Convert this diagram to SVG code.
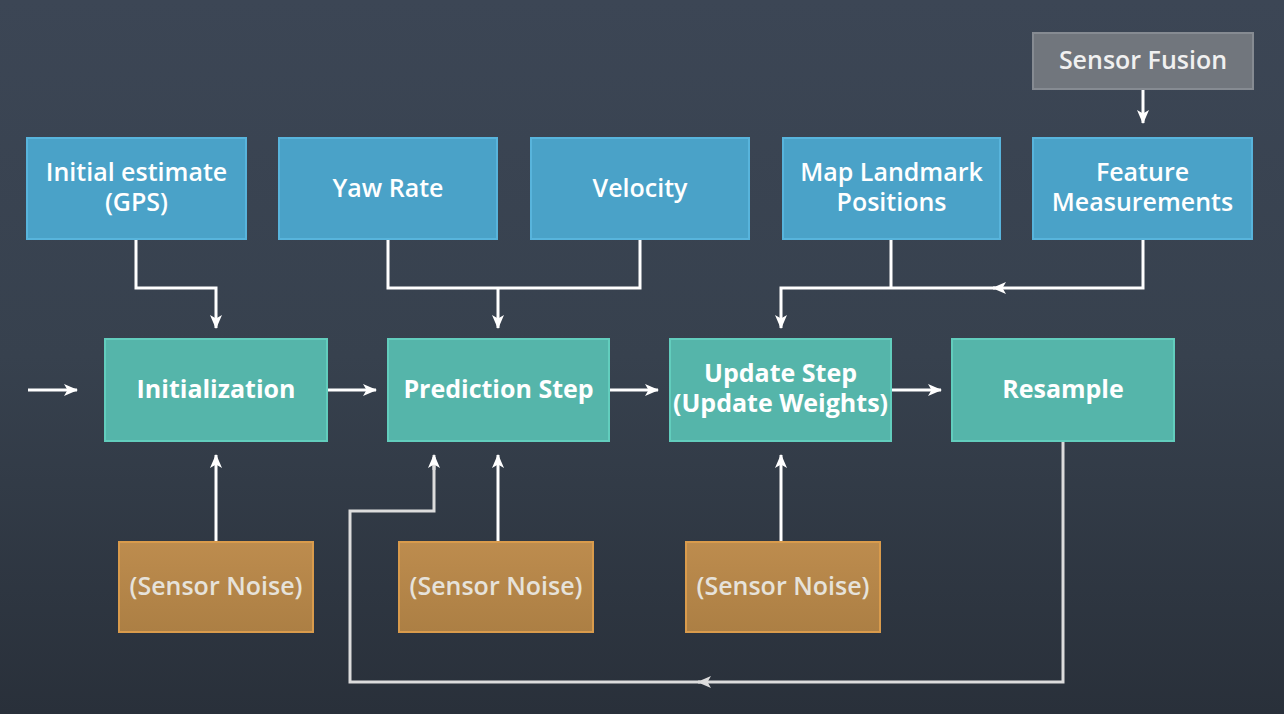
<svg xmlns="http://www.w3.org/2000/svg" width="1284" height="714" viewBox="0 0 1284 714">
<defs>
<linearGradient id="bg" x1="0" y1="0" x2="0" y2="1">
<stop offset="0" stop-color="#3c4655"/>
<stop offset="0.5" stop-color="#37414e"/>
<stop offset="1" stop-color="#29303a"/>
</linearGradient>
<linearGradient id="og" x1="0" y1="0" x2="0" y2="1">
<stop offset="0" stop-color="#bd8c4e"/>
<stop offset="1" stop-color="#ac7f44"/>
</linearGradient>
<marker id="ah" viewBox="0 0 14 12" refX="13" refY="6" markerWidth="14" markerHeight="12" markerUnits="userSpaceOnUse" orient="auto">
<path d="M0,0 L14,6 L0,12 L3.5,6 z" fill="#ffffff"/>
</marker>
<marker id="ahg" viewBox="0 0 14 12" refX="13" refY="6" markerWidth="14" markerHeight="12" markerUnits="userSpaceOnUse" orient="auto">
<path d="M0,0 L14,6 L0,12 L3.5,6 z" fill="#dcdcdc"/>
</marker>
</defs>
<style>
.blue{fill:#4aa2c8;stroke:#58b4dc;stroke-width:2}
.teal{fill:#55b5aa;stroke:#62cdbd;stroke-width:2}
.orange{fill:url(#og);stroke:#d99b4c;stroke-width:2}
.grey{fill:#71767d;stroke:#868b92;stroke-width:2}
text{font-family:"Open Sans","Noto Sans","DejaVu Sans",sans-serif;font-weight:600;font-size:25px;text-anchor:middle;fill:#ffffff}
.bold{font-weight:700}
.noise{fill:#e6e2da}
.sf{fill:#f0f0f0}
.c{fill:none;stroke:#ffffff;stroke-width:3;marker-end:url(#ah)}
.cn{fill:none;stroke:#ffffff;stroke-width:3}
.fb{fill:none;stroke:#dcdcdc;stroke-width:3}
</style>
<rect x="0" y="0" width="1284" height="714" fill="url(#bg)"/>

<g id="connectors">
<path class="c" d="M136,239 V288 H216 V328"/>
<path class="cn" d="M388,239 V288 H640 V239"/>
<path class="c" d="M498,288 V328"/>
<path class="cn" d="M891,239 V288"/>
<path class="c" d="M1143,239 V288 H993"/>
<path class="c" d="M995,288 H781 V328"/>
<path class="c" d="M1143,89 V123"/>
<path class="c" d="M28,390 H77"/>
<path class="c" d="M327,390 H376"/>
<path class="c" d="M609,390 H658"/>
<path class="c" d="M891,390 H941"/>
<path class="c" d="M216,542 V455"/>
<path class="c" d="M498,542 V455"/>
<path class="c" d="M781,542 V455"/>
<path class="fb" d="M1063,441 V682 H698" marker-end="url(#ahg)"/>
<path class="fb" d="M700,682 H350 V511 H434 V457"/>
<path class="c" d="M434,470 V455" style="stroke:#dcdcdc"/>
</g>

<g id="n-gps"><rect class="blue" x="27" y="138" width="219" height="101"/><text x="136.5" y="181">Initial estimate</text><text x="136.5" y="211">(GPS)</text></g>
<g id="n-yaw"><rect class="blue" x="279" y="138" width="218" height="101"/><text x="388" y="197">Yaw Rate</text></g>
<g id="n-vel"><rect class="blue" x="531" y="138" width="218" height="101"/><text x="640" y="197">Velocity</text></g>
<g id="n-map"><rect class="blue" x="783" y="138" width="217" height="101"/><text x="891.5" y="181">Map Landmark</text><text x="891.5" y="211">Positions</text></g>
<g id="n-feat"><rect class="blue" x="1033" y="138" width="219" height="101"/><text x="1142.5" y="181">Feature</text><text x="1142.5" y="211">Measurements</text></g>
<g id="n-fusion"><rect class="grey" x="1033" y="33" width="220" height="56"/><text class="sf" x="1143" y="69">Sensor Fusion</text></g>

<g id="n-init"><rect class="teal" x="105" y="339" width="222" height="102"/><text class="bold" x="216" y="398">Initialization</text></g>
<g id="n-pred"><rect class="teal" x="388" y="339" width="221" height="102"/><text class="bold" x="498.5" y="398">Prediction Step</text></g>
<g id="n-upd"><rect class="teal" x="670" y="339" width="221" height="102"/><text class="bold" x="780.5" y="382">Update Step</text><text class="bold" x="780.5" y="412">(Update Weights)</text></g>
<g id="n-res"><rect class="teal" x="952" y="339" width="222" height="102"/><text class="bold" x="1063" y="398">Resample</text></g>

<g id="n-noise1"><rect class="orange" x="119" y="542" width="194" height="90"/><text class="noise" x="216" y="595">(Sensor Noise)</text></g>
<g id="n-noise2"><rect class="orange" x="399" y="542" width="194" height="90"/><text class="noise" x="496" y="595">(Sensor Noise)</text></g>
<g id="n-noise3"><rect class="orange" x="686" y="542" width="194" height="90"/><text class="noise" x="783" y="595">(Sensor Noise)</text></g>
</svg>
